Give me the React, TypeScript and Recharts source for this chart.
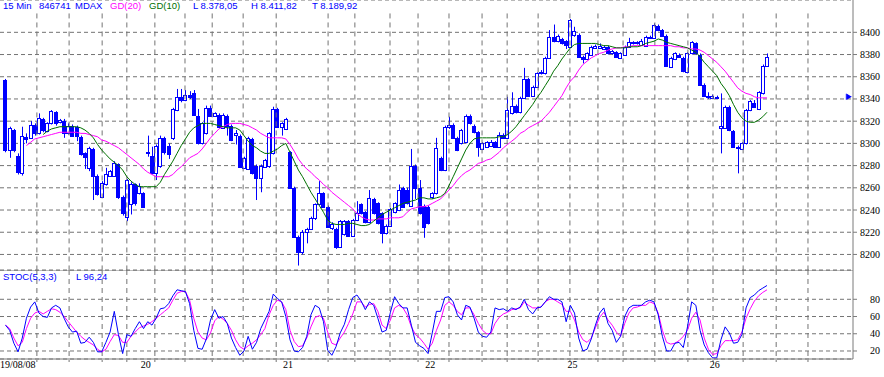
import React from "react";
import {
  ComposedChart,
  Bar,
  Line,
  XAxis,
  YAxis,
  CartesianGrid,
  ReferenceLine,
  ReferenceDot,
} from "recharts";

// 15 min candles, MDAX 19/08/08 - 26/08/08
const open = [
  8357, 8294, 8312, 8289, 8273, 8306, 8305, 8317, 8309, 8322, 8311, 8318, 8328, 8319, 8320, 8309, 8316, 8315, 8306, 8291,
  8278, 8295, 8271, 8252, 8263, 8271, 8271, 8281, 8252, 8234, 8245, 8263, 8255, 8255,
  8292, 8289, 8273, 8280, 8305, 8298, 8305, 8330, 8342, 8339, 8344, 8345, 8325, 8300, 8309, 8332, 8325, 8326, 8314, 8325,
  8316, 8308, 8307, 8278, 8277, 8304, 8280, 8269, 8279, 8280, 8291, 8331, 8315, 8313,
  8292, 8260, 8216, 8202, 8220, 8223, 8233, 8245, 8255, 8243, 8224, 8223, 8207, 8218, 8230, 8217, 8231, 8245, 8238, 8229,
  8250, 8246, 8237, 8219, 8226, 8238, 8240, 8260, 8258, 8244, 8280, 8260, 8244, 8243,
  8252, 8255, 8287, 8276, 8315, 8317, 8305, 8300, 8301, 8325, 8316, 8310, 8295, 8297, 8298, 8301, 8297, 8308, 8305, 8327,
  8334, 8328, 8341, 8358, 8343, 8351, 8363, 8363, 8377, 8396, 8392, 8394, 8392, 8387,
  8398, 8398, 8378, 8376, 8380, 8386, 8386, 8385, 8387, 8381, 8382, 8377, 8380, 8387, 8390, 8390, 8389, 8388, 8395, 8395,
  8406, 8402, 8397, 8369, 8376, 8380, 8377, 8364, 8381, 8390, 8380, 8353, 8343, 8341, 8342,
  8314, 8314, 8333, 8311, 8297, 8295, 8300, 8330, 8336, 8331, 8345, 8370,
];
const high = [
  8358, 8315, 8313, 8291, 8315, 8309, 8320, 8318, 8327, 8323, 8319, 8330, 8329, 8322, 8322, 8318, 8317, 8316, 8307, 8292,
  8297, 8296, 8272, 8266, 8278, 8276, 8284, 8282, 8253, 8268, 8265, 8264, 8264, 8256,
  8307, 8297, 8299, 8307, 8306, 8300, 8332, 8349, 8349, 8348, 8347, 8348, 8331, 8319, 8334, 8334, 8328, 8327, 8327, 8326,
  8317, 8312, 8308, 8288, 8306, 8305, 8281, 8281, 8286, 8310, 8333, 8332, 8319, 8323,
  8293, 8261, 8217, 8222, 8224, 8234, 8246, 8266, 8256, 8244, 8229, 8224, 8231, 8231, 8231, 8232, 8248, 8246, 8239, 8258,
  8251, 8247, 8238, 8227, 8242, 8247, 8263, 8261, 8260, 8295, 8281, 8267, 8245, 8244,
  8256, 8305, 8288, 8316, 8324, 8318, 8306, 8313, 8326, 8326, 8317, 8311, 8301, 8302, 8303, 8302, 8310, 8309, 8342, 8346,
  8335, 8342, 8368, 8359, 8352, 8364, 8366, 8378, 8402, 8407, 8398, 8395, 8393, 8412,
  8405, 8399, 8379, 8382, 8388, 8389, 8390, 8388, 8388, 8384, 8383, 8382, 8388, 8395, 8392, 8392, 8394, 8397, 8397, 8408,
  8407, 8403, 8398, 8378, 8382, 8381, 8378, 8382, 8392, 8391, 8381, 8354, 8346, 8344, 8343,
  8345, 8334, 8334, 8312, 8298, 8301, 8331, 8339, 8339, 8347, 8371, 8381,
];
const low = [
  8292, 8287, 8292, 8272, 8271, 8300, 8304, 8307, 8308, 8310, 8310, 8317, 8316, 8318, 8305, 8308, 8306, 8302, 8289, 8277,
  8275, 8249, 8253, 8251, 8262, 8270, 8270, 8250, 8235, 8230, 8236, 8244, 8254, 8242,
  8288, 8272, 8267, 8278, 8290, 8286, 8303, 8329, 8337, 8338, 8340, 8325, 8299, 8299, 8308, 8324, 8324, 8314, 8313, 8307,
  8302, 8299, 8278, 8277, 8276, 8272, 8249, 8256, 8278, 8278, 8290, 8314, 8307, 8312,
  8259, 8215, 8190, 8200, 8210, 8222, 8231, 8244, 8242, 8224, 8222, 8205, 8206, 8217, 8216, 8216, 8230, 8236, 8228, 8228,
  8236, 8227, 8210, 8218, 8225, 8237, 8239, 8242, 8245, 8243, 8250, 8236, 8215, 8227,
  8250, 8254, 8275, 8275, 8313, 8304, 8293, 8299, 8300, 8317, 8309, 8288, 8294, 8296, 8297, 8296, 8296, 8304, 8304, 8326,
  8327, 8327, 8340, 8342, 8342, 8350, 8362, 8362, 8376, 8391, 8391, 8389, 8385, 8386,
  8396, 8377, 8372, 8375, 8379, 8385, 8385, 8384, 8380, 8380, 8377, 8376, 8379, 8386, 8389, 8389, 8388, 8387, 8394, 8394,
  8401, 8396, 8369, 8368, 8375, 8377, 8364, 8363, 8380, 8380, 8352, 8342, 8340, 8340, 8340,
  8291, 8313, 8311, 8296, 8273, 8294, 8299, 8329, 8332, 8330, 8344, 8369,
];
const close = [
  8294, 8314, 8294, 8274, 8307, 8304, 8317, 8309, 8323, 8312, 8318, 8329, 8318, 8321, 8309, 8316, 8307, 8307, 8290, 8288,
  8296, 8271, 8254, 8264, 8272, 8275, 8282, 8252, 8237, 8267, 8263, 8246, 8262, 8243,
  8291, 8273, 8298, 8305, 8292, 8290, 8331, 8342, 8339, 8344, 8342, 8326, 8300, 8318, 8332, 8325, 8327, 8315, 8326, 8316,
  8303, 8309, 8279, 8287, 8305, 8273, 8269, 8280, 8285, 8309, 8331, 8315, 8318, 8322,
  8260, 8216, 8202, 8220, 8223, 8233, 8245, 8255, 8243, 8225, 8227, 8207, 8230, 8230, 8217, 8231, 8237, 8237, 8229, 8251,
  8237, 8228, 8219, 8226, 8241, 8246, 8258, 8243, 8246, 8280, 8260, 8237, 8225, 8228,
  8255, 8296, 8276, 8315, 8317, 8305, 8294, 8312, 8325, 8318, 8310, 8297, 8300, 8301, 8301, 8297, 8308, 8305, 8330, 8334,
  8328, 8341, 8358, 8343, 8351, 8363, 8364, 8377, 8396, 8392, 8397, 8390, 8389, 8411,
  8401, 8378, 8376, 8381, 8387, 8388, 8388, 8387, 8381, 8383, 8378, 8381, 8387, 8391, 8391, 8391, 8392, 8396, 8396, 8407,
  8402, 8397, 8370, 8377, 8381, 8378, 8365, 8381, 8391, 8381, 8353, 8343, 8342, 8343, 8341,
  8316, 8333, 8312, 8297, 8296, 8300, 8330, 8338, 8333, 8346, 8370, 8378,
];

// GD(20) magenta, GD(10) green
const gd20 = [
  null, null, null, null, null, 8298, 8301, 8304, 8305, 8306, 8307, 8308, 8309, 8310, 8310, 8310, 8310, 8310, 8309, 8309,
  8308, 8307, 8306, 8303, 8302, 8300, 8298, 8296, 8293, 8290, 8287, 8284, 8281, 8277,
  8274, 8272, 8270, 8270, 8270, 8270, 8272, 8276, 8279, 8283, 8287, 8289, 8291, 8295, 8300, 8305, 8309, 8313, 8315, 8317,
  8318, 8318, 8318, 8317, 8316, 8314, 8312, 8309, 8307, 8305, 8305, 8305, 8305, 8304,
  8299, 8293, 8286, 8281, 8277, 8274, 8270, 8267, 8263, 8260, 8256, 8253, 8250, 8247, 8244, 8241, 8237, 8234, 8232, 8231,
  8231, 8232, 8232, 8232, 8233, 8233, 8233, 8234, 8238, 8241, 8242, 8243, 8243, 8244,
  8246, 8248, 8250, 8254, 8258, 8262, 8267, 8271, 8274, 8276, 8279, 8282, 8283, 8285, 8286, 8289, 8292, 8296, 8299, 8302,
  8305, 8309, 8311, 8314, 8316, 8318, 8320, 8324, 8328, 8333, 8338, 8343, 8350, 8356,
  8360, 8366, 8371, 8374, 8377, 8379, 8381, 8382, 8384, 8385, 8386, 8386, 8387, 8387, 8388, 8388, 8388, 8388, 8388, 8388,
  8388, 8388, 8388, 8388, 8387, 8387, 8386, 8386, 8385, 8385, 8384, 8382, 8379, 8376, 8373,
  8369, 8365, 8360, 8355, 8350, 8347, 8345, 8344, 8342, 8341, 8341, 8341,
];
const gd10 = [
  null, null, null, null, null, null, null, null, null, 8308, 8311, 8313, 8314, 8315, 8315, 8315, 8315, 8315, 8314, 8312,
  8309, 8305, 8299, 8294, 8290, 8286, 8283, 8280, 8276, 8270, 8266, 8263, 8261, 8261,
  8261, 8261, 8261, 8265, 8272, 8278, 8284, 8291, 8298, 8304, 8310, 8314, 8316, 8318, 8318, 8318, 8317, 8316, 8315, 8314,
  8314, 8314, 8312, 8307, 8302, 8298, 8296, 8293, 8291, 8291, 8293, 8295, 8298, 8300,
  8292, 8284, 8276, 8270, 8263, 8256, 8250, 8244, 8238, 8231, 8228, 8227, 8227, 8227, 8228, 8228, 8227, 8226, 8226, 8227,
  8230, 8233, 8236, 8238, 8240, 8242, 8244, 8246, 8247, 8248, 8249, 8251, 8251, 8250,
  8250, 8251, 8252, 8255, 8262, 8270, 8278, 8286, 8294, 8300, 8304, 8305, 8305, 8305, 8305, 8305, 8306, 8306, 8308, 8311,
  8315, 8320, 8325, 8330, 8335, 8341, 8346, 8352, 8358, 8365, 8370, 8376, 8381, 8386,
  8389, 8390, 8390, 8390, 8390, 8390, 8389, 8388, 8388, 8387, 8386, 8386, 8386, 8387, 8387, 8387, 8388, 8390, 8391, 8392,
  8394, 8393, 8391, 8390, 8389, 8388, 8387, 8386, 8384, 8382, 8378, 8373, 8369, 8365, 8361,
  8354, 8349, 8343, 8335, 8328, 8323, 8320, 8319, 8319, 8321, 8324, 8328,
];

// STOC(5,3,3): %K blue, %D magenta
const stocK = [
  50, 44, 29, 19, 35, 58, 71, 77, 64, 60, 59, 70, 73, 70, 58, 48, 42, 43, 29, 30,
  36, 30, 19, 19, 30, 42, 66, 39, 17, 39, 37, 46, 54, 46,
  54, 50, 58, 69, 70, 75, 84, 91, 90, 89, 75, 44, 23, 22, 34, 56, 68, 58, 60, 52,
  35, 24, 15, 20, 37, 22, 30, 46, 56, 66, 86, 81, 77, 60,
  33, 20, 19, 24, 37, 62, 73, 70, 54, 21, 15, 25, 41, 51, 68, 82, 85, 78, 68, 77,
  73, 58, 42, 44, 65, 83, 75, 70, 70, 50, 30, 26, 23, 17,
  41, 66, 66, 82, 83, 77, 62, 56, 73, 71, 58, 42, 37, 36, 42, 70, 68, 69, 66, 70,
  68, 71, 80, 68, 63, 70, 71, 77, 83, 80, 80, 77, 54, 73,
  64, 35, 20, 22, 34, 50, 64, 70, 52, 44, 30, 37, 60, 70, 73, 73, 73, 77, 79, 77,
  62, 37, 20, 20, 29, 30, 24, 48, 77, 73, 44, 27, 18, 12, 12,
  33, 48, 41, 29, 30, 39, 70, 82, 85, 90, 93, 96,
];
const stocD = [
  50, 46, 35, 26, 30, 46, 58, 64, 66, 63, 66, 69, 68, 65, 60, 54, 48, 42, 37, 33,
  30, 27, 22, 19, 22, 31, 39, 38, 30, 30, 37, 42, 47, 49,
  51, 54, 58, 62, 66, 70, 79, 87, 89, 89, 79, 58, 42, 35, 33, 41, 55, 60, 57, 52,
  44, 33, 25, 22, 26, 29, 33, 39, 46, 62, 73, 79, 77, 68,
  44, 31, 25, 26, 35, 48, 59, 61, 58, 42, 29, 27, 35, 42, 52, 63, 77, 77, 71, 74,
  75, 66, 50, 46, 56, 70, 73, 70, 62, 48, 39, 35, 29, 22,
  29, 44, 56, 73, 77, 73, 66, 62, 70, 70, 62, 52, 44, 40, 40, 52, 59, 63, 65, 68,
  69, 70, 77, 73, 70, 70, 71, 77, 80, 80, 77, 74, 66, 66,
  56, 42, 33, 30, 35, 47, 59, 65, 56, 50, 42, 37, 52, 64, 70, 71, 73, 73, 77, 75,
  64, 44, 30, 28, 29, 32, 37, 44, 58, 65, 56, 35, 22, 16, 17,
  26, 32, 32, 32, 33, 42, 58, 69, 78, 84, 88, 91,
];

const priceTicks = [8200, 8220, 8240, 8260, 8280, 8300, 8320, 8340, 8360, 8380, 8400];
const stocTicks = [20, 40, 60, 80];
const dayTicks = [-1.315, 33.5, 67.5, 101.5, 135.5, 169.5];
const dayLabels = ["19/08/08", "20", "21", "22", "25", "26"];
const timeGrid = [
  7.5, 15.2, 23.1, 29.0, 35.7, 42.9, 49.4, 56.8, 64.7, 77.1, 83.5, 91.9, 98.6, 106.0, 113.9, 119.9, 127.3, 134.9,
  141.6, 147.6, 155.2, 163.1, 169.1, 176.3, 184.2, 191.8,
];
const lastMark = 8342;

const X_DOMAIN: [number, number] = [-1.315, 202.56];
const P_DOMAIN: [number, number] = [8186.0, 8429.1];
const S_DOMAIN: [number, number] = [10.7, 114.0];

const rows = open.map((o, i) => ({
  i,
  o,
  h: high[i],
  l: low[i],
  c: close[i],
  hl: [low[i], high[i]],
  gd20: gd20[i],
  gd10: gd10[i],
  k: stocK[i],
  d: stocD[i],
}));

const BLUE = "#0000ff";
const MAGENTA = "#ff00ff";
const GREEN = "#007000";
const GRID = "#737373";
const AXIS = "#7a7a7a";
const SERIF = "'Liberation Serif', 'Times New Roman', serif";
const SANS = "'Liberation Sans', Arial, sans-serif";

const Candle = (props: any) => {
  const { x, y, width, height, payload } = props;
  if (x == null || y == null || !payload) return null;
  const top0 = Math.min(y, y + height);
  const hh = Math.abs(height);
  const { o, h, l, c } = payload;
  const span = h - l;
  const py = (v: number) => (span > 0 ? top0 + ((h - v) / span) * hh : top0);
  const cx = Math.round(x + width / 2) + 0.5;
  const bTop = Math.round(py(Math.max(o, c))) + 0.5;
  const bBot = Math.max(Math.round(py(Math.min(o, c))) + 0.5, bTop + 1);
  const up = c >= o;
  return (
    <g>
      <line x1={cx} x2={cx} y1={top0} y2={top0 + hh} stroke={BLUE} strokeWidth={1} />
      <rect
        x={cx - 2}
        y={bTop}
        width={3}
        height={bBot - bTop}
        fill={up ? "#ffffff" : BLUE}
        stroke={BLUE}
        strokeWidth={1}
      />
    </g>
  );
};

const RightTick = (props: any) => {
  const { x, y, payload } = props;
  return (
    <text x={x + 20} y={y} dy={3.5} textAnchor="end" fontFamily={SERIF} fontSize={10} fill="#000">
      {payload.value}
    </text>
  );
};

const DayTick = (props: any) => {
  const { x, y, payload } = props;
  const idx = dayTicks.indexOf(payload.value);
  return (
    <text x={x} y={y} dy="0.72em" textAnchor={idx === 0 ? "start" : "middle"} fontFamily={SERIF} fontSize={10} fill="#000">
      {dayLabels[idx]}
    </text>
  );
};

const Flag = (props: any) => {
  const { cx, cy } = props;
  if (cx == null || cy == null) return null;
  return (
    <g>
      <polygon points={`${cx - 3},${cy - 3} ${cx + 2},${cy} ${cx - 3},${cy + 3}`} fill={BLUE} />
      <line x1={cx - 3.5} x2={cx - 3.5} y1={cy - 3} y2={cy + 3} stroke={BLUE} />
    </g>
  );
};

export default function App() {
  return (
    <div style={{ position: "absolute", left: 0, top: 0, width: 884, height: 377, background: "#fff", overflow: "hidden" }}>
      <div style={{ position: "absolute", left: 0, top: 0 }}>
        <ComposedChart width={884} height={272} data={rows} margin={{ top: 0, right: 0, bottom: 2, left: 0 }}>
          <CartesianGrid vertical={false} stroke={GRID} strokeDasharray="4 3" />
          <XAxis type="number" dataKey="i" domain={X_DOMAIN} allowDataOverflow hide />
          <YAxis
            orientation="right"
            width={31}
            domain={P_DOMAIN}
            allowDataOverflow
            ticks={priceTicks}
            interval={0}
            tickSize={4}
            tickMargin={3}
            stroke={AXIS}
            tickLine={{ stroke: AXIS }}
            tick={<RightTick />}
          />
          {timeGrid.map((g) => (
            <ReferenceLine
              key={g}
              segment={[{ x: g, y: 8417 }, { x: g, y: P_DOMAIN[0] }]}
              stroke={GRID}
              strokeDasharray="5 4"
            />
          ))}
          <Line dataKey="gd20" stroke={MAGENTA} strokeWidth={1} dot={false} isAnimationActive={false} />
          <Line dataKey="gd10" stroke={GREEN} strokeWidth={1} dot={false} isAnimationActive={false} />
          <Bar dataKey="hl" barSize={4} shape={<Candle />} isAnimationActive={false} />
          <ReferenceDot x={201.8} y={lastMark} r={3} shape={<Flag />} ifOverflow="visible" />
        </ComposedChart>
      </div>
      <div style={{ position: "absolute", left: 0, top: 270 }}>
        <ComposedChart width={884} height={107} data={rows} margin={{ top: 0, right: 0, bottom: 0, left: 0 }}>
          <CartesianGrid vertical={false} stroke={GRID} strokeDasharray="4 3" />
          <XAxis
            type="number"
            dataKey="i"
            domain={X_DOMAIN}
            allowDataOverflow
            ticks={dayTicks}
            interval={0}
            height={18}
            tickSize={0}
            tickMargin={2}
            stroke={AXIS}
            tick={<DayTick />}
          />
          <YAxis
            orientation="right"
            width={31}
            domain={S_DOMAIN}
            allowDataOverflow
            ticks={stocTicks}
            interval={0}
            tickSize={4}
            tickMargin={3}
            stroke={AXIS}
            tickLine={{ stroke: AXIS }}
            tick={<RightTick />}
          />
          <ReferenceLine y={S_DOMAIN[1]} stroke={AXIS} />
          {timeGrid.map((g) => (
            <ReferenceLine
              key={g}
              segment={[{ x: g, y: S_DOMAIN[1] }, { x: g, y: 7.2 }]}
              stroke={GRID}
              strokeDasharray="5 4"
              ifOverflow="visible"
            />
          ))}
          <Line dataKey="d" stroke={MAGENTA} strokeWidth={1} dot={false} isAnimationActive={false} />
          <Line dataKey="k" stroke={BLUE} strokeWidth={1} dot={false} isAnimationActive={false} />
        </ComposedChart>
      </div>
      <svg width={884} height={377} style={{ position: "absolute", left: 0, top: 0, pointerEvents: "none" }}>
        <g fontFamily={SANS} fontSize={9.5}>
          <text x={3} y={9} fill={BLUE}>15 Min</text>
          <text x={39} y={9} fill={BLUE}>846741</text>
          <text x={75} y={9} fill={BLUE}>MDAX</text>
          <text x={110} y={9} fill={MAGENTA}>GD(20)</text>
          <text x={149} y={9} fill={GREEN}>GD(10)</text>
          <text x={193} y={9} fill={BLUE}>L  8.378,05</text>
          <text x={251} y={9} fill={BLUE}>H  8.411,82</text>
          <text x={312} y={9} fill={BLUE}>T  8.189,92</text>
          <text x={3} y={280} fill={BLUE}>STOC(5,3,3)</text>
          <text x={76} y={280} fill={BLUE}>L  96,24</text>
        </g>
      </svg>
    </div>
  );
}
